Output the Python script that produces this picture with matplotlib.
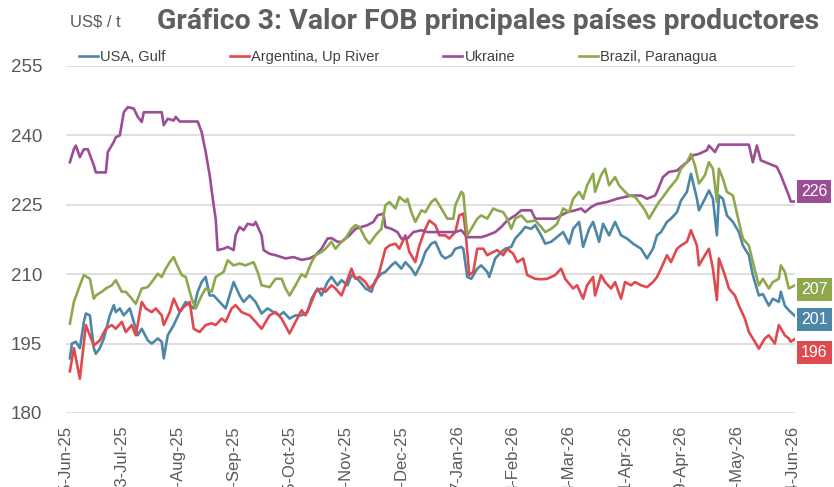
import matplotlib
matplotlib.use("Agg")
import matplotlib.pyplot as plt
import pandas as pd

# FOB values, US$/t; days counted from 25-Jun-25
start = pd.Timestamp("2025-06-25")

ukr_days = [2, 4, 5, 7, 9, 11, 14, 15, 20, 21, 24, 25, 27, 29, 31, 34, 36, 38, 39, 48, 49, 51, 54, 55, 57,
            66, 68, 70, 72, 74, 75, 76, 79, 81, 84, 85, 87, 89, 91, 94, 95, 98, 99, 102, 105, 110, 114,
            118, 122, 125, 128, 131, 133, 136, 138, 142, 145, 148, 151, 154, 156, 159, 160, 163, 166, 168,
            171, 174, 178, 181, 195, 198, 201, 208, 211, 215, 218, 221, 225, 228, 233, 235, 238, 245, 248,
            251, 255, 258, 260, 263, 266, 271, 276, 280, 283, 288, 291, 295, 296, 299, 302, 306, 309, 312,
            314, 317, 321, 322, 325, 327, 342, 344, 346, 348, 352, 356, 358, 361, 362, 363, 365]
ukr_vals = [234.2, 237, 237.8, 235.3, 237, 237, 233.5, 232, 232, 236.4, 238.6, 239.6, 240, 245, 246.1, 245.8,
            244, 242.9, 245, 245, 242.2, 243.6, 243.2, 244, 243, 243, 240.7, 236.4, 231.4, 224.9, 222,
            215.2, 215.5, 215.9, 215.2, 218.4, 220.2, 219.5, 220.9, 220.6, 221.3, 218.4, 215.2, 214.4,
            214.1, 213.4, 213.7, 213.1, 213.4, 214.1, 215.5, 217.7, 217.8, 217, 217, 218.4, 219.8, 220.2,
            220.6, 221.3, 222.7, 223.1, 220.2, 219.8, 219.1, 217.7, 217.7, 219.1, 219.5, 219.1, 219.1,
            219.5, 218, 218, 218.4, 219.1, 220.2, 221.6, 222.7, 223.8, 223.8, 222, 222, 222, 222.7, 223.4,
            223.8, 224.2, 223.4, 224.5, 225.2, 225.6, 226.3, 226.7, 227, 227, 226.3, 227, 227.8, 231,
            232.1, 232.4, 233.5, 234.6, 235.7, 236, 236.8, 237.8, 236.4, 238, 238, 234.2, 237.8, 234.6,
            233.9, 233.2, 231.4, 228.1, 227, 225.7, 225.7]

arg_days = [2, 4, 7, 9, 10, 14, 17, 20, 23, 25, 28, 30, 33, 35, 38, 40, 43, 45, 48, 49, 52, 54, 57, 59, 62,
            64, 67, 70, 73, 75, 78, 80, 83, 85, 88, 92, 95, 98, 102, 105, 108, 112, 115, 118, 120, 123,
            125, 128, 130, 133, 135, 138, 140, 143, 145, 147, 150, 152, 155, 157, 160, 162, 165, 167, 170,
            172, 175, 177, 180, 182, 185, 187, 190, 192, 195, 197, 199, 200, 202, 204, 206, 209, 211, 214,
            216, 219, 221, 224, 226, 229, 231, 235, 238, 241, 245, 248, 250, 254, 256, 259, 261, 264, 265,
            268, 270, 273, 275, 278, 280, 283, 285, 288, 291, 294, 296, 298, 301, 303, 306, 308, 311, 313,
            316, 317, 320, 322, 324, 326, 327, 330, 332, 335, 337, 340, 342, 345, 347, 350, 352, 355, 357,
            360, 362, 363, 365]
arg_vals = [189, 194, 187.4, 195, 199, 194.6, 195.7, 198.2, 199, 198.2, 199.7, 197.5, 199, 196.8, 204,
            202.6, 201.8, 202.6, 201.1, 199, 201.8, 204.7, 201.8, 202.9, 204, 198.2, 197.5, 199, 199.4,
            199, 200.4, 199.7, 202.6, 203.3, 201.8, 201.1, 199.7, 198.2, 201.1, 201.8, 200.4, 197.2,
            199.7, 202.2, 201.1, 204, 206.2, 206.9, 206.2, 207.6, 206.9, 205.4, 207.6, 211.2, 209, 209.4,
            208.3, 206.9, 208.3, 210.5, 215.5, 216.2, 216.6, 215.5, 218.4, 214.8, 212.6, 216.2, 219.8,
            221.6, 220.6, 218.4, 218.4, 217.7, 219.1, 222.7, 223.1, 219.8, 209.8, 210.5, 215.5, 215.5,
            214.1, 214.8, 215.2, 214.1, 215.5, 214.4, 212.6, 213.4, 209.8, 209, 208.9, 209, 209.8, 211.2,
            209, 206.9, 207.6, 204.7, 207.6, 209.4, 205.4, 209.8, 208.3, 206.9, 208.3, 204.7, 208.3,
            207.6, 208.3, 207.6, 207.2, 208.3, 209.4, 211.2, 214.1, 212.6, 215.5, 216.2, 217, 219.5,
            216.2, 211.9, 214.1, 215.5, 211.2, 204.4, 213.4, 209.8, 206.9, 205.4, 203.2, 200.4, 197.5,
            195.4, 193.9, 196.1, 196.8, 195, 199, 196.8, 196.1, 195.4, 196]

usa_days = [2, 3, 5, 7, 9, 10, 12, 14, 15, 17, 19, 22, 24, 25, 27, 29, 32, 34, 36, 38, 41, 43, 46, 48, 49,
            51, 54, 57, 60, 64, 66, 68, 70, 72, 74, 77, 80, 83, 84, 87, 89, 92, 95, 98, 101, 104, 107, 109,
            112, 115, 118, 121, 123, 126, 128, 131, 133, 136, 138, 141, 143, 146, 148, 150, 153, 155, 158,
            160, 163, 165, 168, 170, 173, 175, 178, 180, 183, 185, 188, 190, 193, 195, 198, 199, 201, 203,
            206, 208, 211, 212, 215, 218, 220, 223, 225, 228, 230, 233, 235, 238, 240, 243, 247, 249, 252,
            254, 257, 259, 262, 264, 267, 269, 272, 275, 278, 281, 284, 288, 291, 294, 296, 298, 301, 303,
            306, 308, 311, 313, 316, 317, 320, 322, 324, 326, 327, 329, 331, 334, 337, 339, 342, 344, 347,
            349, 352, 354, 357, 358, 360, 362, 365]
usa_vals = [191.8, 195, 195.4, 194, 199.7, 201.5, 201.1, 194, 192.8, 194, 196.1, 201.1, 203.3, 201.8,
            202.6, 201.1, 202.6, 199.7, 196.8, 198.2, 195.7, 195, 196.1, 195.4, 191.8, 196.8, 199, 201.8,
            204, 202.6, 206.2, 208.3, 209.4, 205.4, 205.4, 204, 202.6, 206.9, 208.3, 205.4, 204, 205.4,
            204, 201.5, 202.6, 201.8, 201.1, 201.8, 200.4, 201.1, 201.1, 201.8, 204.7, 206.9, 205.4,
            208.3, 209.4, 207.6, 208.7, 207.6, 209.8, 209, 208, 206.9, 206.2, 208.7, 210.1, 210.5, 211.9,
            212.6, 211.2, 212.6, 211.2, 209.8, 212.3, 214.8, 216.6, 217, 214.1, 213.4, 214.1, 215.5,
            215.9, 215.5, 209.4, 209, 211.2, 211.9, 210.5, 209.4, 213.4, 214.8, 215.5, 215.9, 217.7,
            219.1, 220.2, 219.8, 220.6, 218.4, 216.6, 217, 218.4, 219.1, 216.6, 219.8, 221.3, 215.9,
            219.8, 221.3, 217, 220.9, 218.4, 221.3, 218.4, 217.7, 216.6, 215.5, 213.4, 215.5, 218.4,
            219.1, 221.3, 222, 223.4, 225.9, 227.8, 231.7, 226.3, 223.8, 226.3, 228.1, 226.3, 218.4, 227,
            226.3, 222.7, 221.3, 219.1, 216.2, 214.1, 209.8, 205.4, 205.7, 203.2, 204.7, 204, 206.2,
            203.2, 202.2, 201]

bra_days = [2, 4, 7, 9, 12, 14, 15, 18, 20, 23, 25, 28, 30, 33, 35, 38, 41, 43, 46, 48, 50, 52, 54, 55, 58,
            60, 63, 65, 68, 70, 73, 75, 79, 81, 84, 87, 90, 94, 96, 98, 102, 105, 108, 110, 112, 115, 118,
            120, 123, 125, 128, 130, 133, 135, 138, 140, 143, 145, 147, 150, 152, 155, 158, 160, 162, 165,
            167, 170, 171, 173, 175, 178, 180, 183, 185, 188, 191, 194, 195, 198, 199, 201, 203, 206, 208,
            211, 214, 216, 219, 221, 223, 225, 228, 231, 235, 238, 240, 243, 246, 249, 252, 254, 257, 259,
            261, 264, 265, 268, 270, 272, 275, 277, 280, 282, 285, 287, 290, 292, 295, 297, 299, 302, 306,
            308, 311, 313, 315, 317, 320, 322, 324, 326, 327, 329, 331, 334, 337, 339, 342, 344, 347, 349,
            352, 354, 357, 358, 360, 362, 365]
bra_vals = [199.3, 204, 207.6, 209.8, 209, 204.7, 205.4, 206.2, 206.9, 207.6, 208.7, 206.2, 206.2, 204.7,
            203.6, 206.9, 207.2, 208.3, 210.1, 209.4, 211.2, 212.6, 213.7, 212.6, 209.8, 209.4, 204.7,
            202.6, 205.4, 206.9, 206.2, 209.4, 210.5, 213, 211.9, 212.3, 211.9, 212.6, 210.5, 207.6,
            207.2, 209, 209, 206.9, 205.4, 207.6, 210, 209.4, 212.6, 214.1, 214.8, 215.5, 217, 215.5, 217,
            217.7, 219.8, 220.6, 220.2, 217.7, 216.6, 218.4, 219.8, 224.9, 225.6, 224.2, 226.7, 225.6,
            226.3, 223.4, 221.3, 223.8, 223.4, 225.6, 226.3, 224.2, 222, 222, 224.9, 227.8, 227.4, 218.4,
            219.8, 222, 222.7, 222, 224.2, 223.8, 223.4, 222, 219.8, 222, 222.7, 221.3, 221.6, 220.2,
            219.1, 219.8, 220.9, 224.2, 223.4, 226.3, 227.8, 226.3, 229.2, 231.7, 227.8, 231.4, 232.8,
            229.2, 231, 229.2, 227.8, 227, 226.7, 225.6, 223.8, 222, 224.2, 225.6, 226.7, 228.5, 230.6,
            232.8, 234.2, 236, 233.5, 229.6, 231.4, 234.2, 232.8, 225.6, 232.8, 230.6, 227.8, 227, 221.3,
            217.7, 216.2, 212.6, 207.6, 209, 206.9, 208.3, 209, 211.9, 210.5, 206.9, 207.6]

series = [
    ("USA, Gulf", usa_days, usa_vals, "#4d87a7", 201),
    ("Argentina, Up River", arg_days, arg_vals, "#df4a4f", 196),
    ("Ukraine", ukr_days, ukr_vals, "#9b4d95", 226),
    ("Brazil, Paranagua", bra_days, bra_vals, "#8ea84d", 207),
]
# vertical shift of the end labels (points) so they don't overlap
label_shift = {"USA, Gulf": -3, "Argentina, Up River": -10, "Ukraine": 7, "Brazil, Paranagua": -3}

tick_dates = [start + pd.Timedelta(days=28 * k) for k in range(14)]
tick_labels = [f"{d.day}-{d.strftime('%b-%y')}" for d in tick_dates]
y_ticks = [180, 195, 210, 225, 240, 255]

grey = "#595959"
fig = plt.figure(figsize=(8.34, 4.87), dpi=100)
ax = fig.add_axes([0.079, 0.152, 0.874, 0.7125])

for name, days, vals, col, last in series:
    dates = start + pd.to_timedelta(days, unit="D")
    ax.plot(dates, vals, color=col, lw=1.9, label=name, solid_joinstyle="round")
    ax.annotate(str(last), xy=(dates[-1], vals[-1]), xytext=(4.5, label_shift[name]),
                textcoords="offset points", va="center", ha="left", color="white",
                fontsize=11.5, family="Liberation Sans", annotation_clip=False,
                bbox=dict(boxstyle="square,pad=0.25", fc=col, ec="none"))

ax.set_xlim(start, start + pd.Timedelta(days=365))
ax.set_ylim(180, 255)
ax.set_yticks(y_ticks)
ax.set_yticklabels([str(v) for v in y_ticks], fontsize=13.5, color=grey, family="Liberation Sans")
ax.set_xticks(tick_dates)
ax.set_xticklabels(tick_labels, rotation=90, fontsize=12, color=grey, family="Liberation Sans",
                   va="top", ha="center")
ax.tick_params(axis="y", length=0, pad=17)
ax.tick_params(axis="x", length=0, pad=9)
ax.grid(axis="y", color="#d9d9d9", lw=1.2)
ax.set_axisbelow(True)
for s in ax.spines.values():
    s.set_visible(False)

fig.legend(loc="center left", bbox_to_anchor=(0.079, 0.883), ncol=4, frameon=False,
           handlelength=1.3, handletextpad=0.15, columnspacing=4.4,
           prop={"family": "Liberation Sans", "size": 10.5}, labelcolor="#404040")

fig.text(0.084, 0.955, "US$ / t", fontsize=12, color=grey, family="Liberation Sans", va="center")
fig.text(0.188, 0.955, "Gráfico 3: Valor FOB principales países productores", fontsize=20.5,
         fontweight="bold", color="#5f5f5f", family="Roboto", va="center")

fig.savefig("out.png", dpi=100)
